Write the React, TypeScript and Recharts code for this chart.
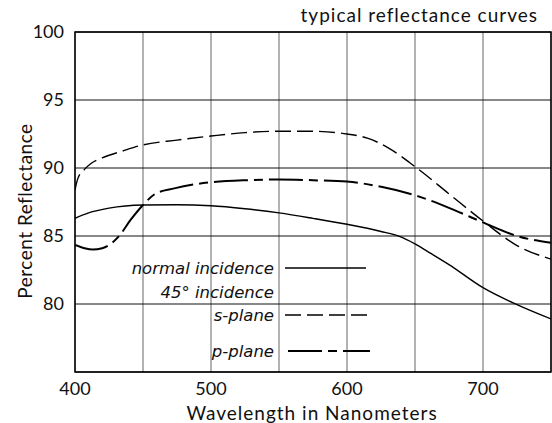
import React from "react";
import {
  LineChart,
  Line,
  XAxis,
  YAxis,
  CartesianGrid,
  ReferenceArea,
} from "recharts";

const xTicks = [400, 450, 500, 550, 600, 650, 700, 750];
const yTicks = [75, 80, 85, 90, 95, 100];

// normal incidence
const normalNm = [400, 410, 425, 450, 475, 500, 525, 550, 575, 600, 625, 639, 650, 662, 675, 700, 725, 750];
const normalPct = [86.3, 86.7, 87.05, 87.28, 87.3, 87.22, 87.0, 86.7, 86.3, 85.86, 85.33, 84.95, 84.42, 83.7, 82.9, 81.2, 79.95, 78.9];

// 45° incidence, s-plane
const sNm = [400, 402, 407, 412, 420, 435, 450, 475, 500, 525, 550, 575, 600, 615, 630, 650, 675, 700, 725, 750];
const sPct = [88.4, 89.2, 89.9, 90.35, 90.75, 91.25, 91.7, 92.05, 92.35, 92.6, 92.7, 92.7, 92.5, 92.2, 91.5, 90.1, 88.1, 86.1, 84.3, 83.3];

// 45° incidence, p-plane
const pNm = [400, 407, 413, 420, 426, 432, 441, 450, 459, 473, 488, 500, 525, 550, 575, 600, 626, 650, 679, 700, 725, 750];
const pPct = [84.34, 84.1, 84.0, 84.1, 84.4, 84.95, 86.2, 87.28, 88.1, 88.5, 88.8, 88.95, 89.1, 89.15, 89.1, 89.0, 88.6, 88.0, 86.9, 86.0, 85.0, 84.5];

const toPoints = (xs: number[], ys: number[]) => xs.map((x, i) => ({ nm: x, pct: ys[i] }));

const normalData = toPoints(normalNm, normalPct);
const sData = toPoints(sNm, sPct);
const pData = toPoints(pNm, pPct);

const S_DASH = "16 6";
const P_DASH = "34 6 9 6";
const FONT = "Lato, 'Open Sans', sans-serif";
const LEGEND_FONT = "'DejaVu Sans', sans-serif";

function LegendBox() {
  const rows = [
    { label: "normal incidence", y: 268, dash: undefined as string | undefined, w: 1.4, x1: 285, x2: 366 },
    { label: "45° incidence", y: 292, dash: undefined, w: 0, x1: 0, x2: 0 },
    { label: "s-plane", y: 315, dash: S_DASH, w: 1.4, x1: 285, x2: 368 },
    { label: "p-plane", y: 351, dash: P_DASH, w: 2, x1: 288, x2: 370 },
  ];
  return (
    <svg
      width={552}
      height={423}
      style={{ position: "absolute", left: 0, top: 0, pointerEvents: "none" }}
    >
      {rows.map((r) => (
        <g key={r.label}>
          <text
            x={274}
            y={r.y}
            textAnchor="end"
            dominantBaseline="central"
            fontFamily={LEGEND_FONT}
            fontStyle="italic"
            fontSize={16.5}
            fill="#111"
          >
            {r.label}
          </text>
          {r.w > 0 && (
            <line
              x1={r.x1}
              x2={r.x2}
              y1={r.y}
              y2={r.y}
              stroke="#000"
              strokeWidth={r.w}
              strokeDasharray={r.dash}
            />
          )}
        </g>
      ))}
    </svg>
  );
}

export default function App() {
  return (
    <div style={{ position: "absolute", left: 0, top: 0, width: 552, height: 423, background: "#fff" }}>
      <LineChart
        width={552}
        height={423}
        margin={{ top: 32, right: 1, bottom: 0, left: 0 }}
      >
        <CartesianGrid horizontal={false} stroke="#666" strokeWidth={1} />
        <CartesianGrid vertical={false} stroke="#111" strokeWidth={1} />
        <XAxis
          type="number"
          dataKey="nm"
          domain={[400, 750]}
          ticks={xTicks}
          allowDataOverflow
          height={51}
          axisLine={false}
          tickLine={false}
          tickMargin={4}
          tickFormatter={(v: number) => (v % 100 === 0 && v < 750 ? String(v) : "")}
          tick={{ fill: "#111", fontSize: 18, fontFamily: FONT }}
        />
        <YAxis
          type="number"
          domain={[75, 100]}
          ticks={yTicks}
          allowDataOverflow
          width={75}
          axisLine={false}
          tickLine={false}
          tickMargin={5}
          tickFormatter={(v: number) => (v === 75 ? "" : String(v))}
          tick={{ fill: "#111", fontSize: 18, fontFamily: FONT }}
        />
        <ReferenceArea
          x1={400}
          x2={750}
          y1={75}
          y2={100}
          fill="none"
          stroke="#000"
          strokeWidth={1.5}
          strokeOpacity={1}
        />
        <Line
          data={normalData}
          dataKey="pct"
          type="monotone"
          stroke="#000"
          strokeWidth={1.4}
          dot={false}
          isAnimationActive={false}
        />
        <Line
          data={sData}
          dataKey="pct"
          type="monotone"
          stroke="#000"
          strokeWidth={1.4}
          strokeDasharray={S_DASH}
          dot={false}
          isAnimationActive={false}
        />
        <Line
          data={pData}
          dataKey="pct"
          type="monotone"
          stroke="#000"
          strokeWidth={2}
          strokeDasharray={P_DASH}
          dot={false}
          isAnimationActive={false}
        />
        <text
          x={538}
          y={14}
          textAnchor="end"
          dominantBaseline="central"
          fontFamily={FONT}
          fontSize={19}
          letterSpacing={1}
          fill="#111"
        >
          typical reflectance curves
        </text>
        <text
          x={312}
          y={412}
          textAnchor="middle"
          dominantBaseline="central"
          fontFamily={FONT}
          fontSize={19}
          letterSpacing={1}
          fill="#111"
        >
          Wavelength in Nanometers
        </text>
        <text
          x={24}
          y={211}
          transform="rotate(-90 24 211)"
          textAnchor="middle"
          dominantBaseline="central"
          fontFamily={FONT}
          fontSize={19}
          letterSpacing={0.5}
          fill="#111"
        >
          Percent Reflectance
        </text>
      </LineChart>
      <LegendBox />
    </div>
  );
}
